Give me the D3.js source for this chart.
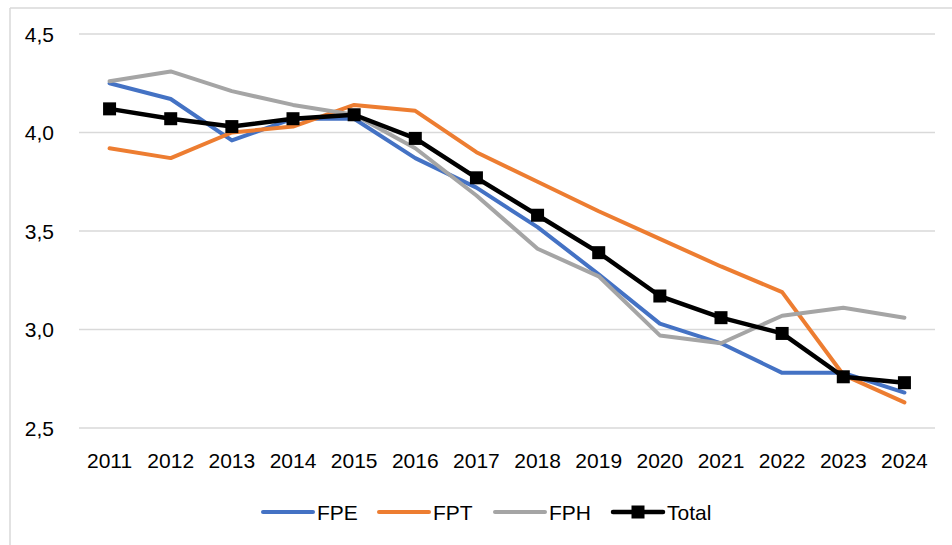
<!DOCTYPE html>
<html>
<head>
<meta charset="utf-8">
<script src="https://cdn.jsdelivr.net/npm/d3@7"></script>
<style>
  body { margin: 0; background: #fff; }
  text { font-family: "Liberation Sans", Arial, sans-serif; fill: #000; }
</style>
</head>
<body>
<svg id="chart" width="952" height="545"></svg>
<script>
  var years = ["2011", "2012", "2013", "2014", "2015", "2016", "2017", "2018", "2019", "2020", "2021", "2022", "2023", "2024"];
  var fpe   = [4.25, 4.17, 3.96, 4.07, 4.07, 3.87, 3.72, 3.52, 3.28, 3.03, 2.93, 2.78, 2.78, 2.68];
  var fpt   = [3.92, 3.87, 4.00, 4.03, 4.14, 4.11, 3.90, 3.75, 3.60, 3.46, 3.32, 3.19, 2.77, 2.63];
  var fph   = [4.26, 4.31, 4.21, 4.14, 4.09, 3.92, 3.68, 3.41, 3.27, 2.97, 2.93, 3.07, 3.11, 3.06];
  var total = [4.12, 4.07, 4.03, 4.07, 4.09, 3.97, 3.77, 3.58, 3.39, 3.17, 3.06, 2.98, 2.76, 2.73];
  var yTicks = [2.5, 3.0, 3.5, 4.0, 4.5];

  var series = [
    {name: "FPE", values: fpe, color: "#4472c4", marker: false},
    {name: "FPT", values: fpt, color: "#ed7d31", marker: false},
    {name: "FPH", values: fph, color: "#a5a5a5", marker: false},
    {name: "Total", values: total, color: "#000000", marker: true}
  ];

  var svg = d3.select("#chart");

  // chart frame (only top and left edges visible)
  svg.append("line").attr("x1", 10).attr("x2", 952).attr("y1", 8).attr("y2", 8)
    .attr("stroke", "#d9d9d9").attr("stroke-width", 1.5);
  svg.append("line").attr("x1", 10).attr("x2", 10).attr("y1", 8).attr("y2", 545)
    .attr("stroke", "#d9d9d9").attr("stroke-width", 1.5);

  var x = d3.scaleBand().domain(years).range([79, 935]);
  var y = d3.scaleLinear().domain([2.5, 4.5]).range([428, 34]);
  var cx = function(d, i) { return x(years[i]) + x.bandwidth() / 2; };

  var fmt = function(v) { return d3.format(".1f")(v).replace(".", ","); };

  // gridlines
  svg.append("g").selectAll("line").data(yTicks).enter().append("line")
    .attr("x1", 79).attr("x2", 935)
    .attr("y1", function(d) { return y(d); }).attr("y2", function(d) { return y(d); })
    .attr("stroke", "#d9d9d9").attr("stroke-width", 1.5);

  // y labels
  svg.append("g").selectAll("text").data(yTicks).enter().append("text")
    .attr("x", 54).attr("y", function(d) { return y(d); })
    .attr("dy", "0.36em").attr("text-anchor", "end")
    .style("font-size", "21px")
    .text(fmt);

  // x labels
  svg.append("g").selectAll("text").data(years).enter().append("text")
    .attr("x", function(d) { return x(d) + x.bandwidth() / 2; })
    .attr("y", 468).attr("text-anchor", "middle")
    .style("font-size", "21px")
    .text(function(d) { return d; });

  var line = d3.line().x(cx).y(function(d) { return y(d); });

  series.forEach(function(s) {
    svg.append("path").datum(s.values)
      .attr("fill", "none").attr("stroke", s.color)
      .attr("stroke-width", s.marker ? 4.5 : 4)
      .attr("stroke-linejoin", "round").attr("stroke-linecap", "round")
      .attr("d", line);
    if (s.marker) {
      svg.append("g").selectAll("rect").data(s.values).enter().append("rect")
        .attr("x", function(d, i) { return cx(d, i) - 6.5; })
        .attr("y", function(d) { return y(d) - 6.5; })
        .attr("width", 13).attr("height", 13)
        .attr("fill", s.color);
    }
  });

  // legend
  var legendX = [263, 379, 495, 613];
  var legend = svg.append("g");
  series.forEach(function(s, i) {
    var lx = legendX[i];
    legend.append("line").attr("x1", lx).attr("x2", lx + 50)
      .attr("y1", 512).attr("y2", 512)
      .attr("stroke", s.color).attr("stroke-width", s.marker ? 4.5 : 4)
      .attr("stroke-linecap", "round");
    if (s.marker) {
      legend.append("rect").attr("x", lx + 18.5).attr("y", 505.5)
        .attr("width", 13).attr("height", 13).attr("fill", s.color);
    }
    legend.append("text").attr("x", lx + 54).attr("y", 512).attr("dy", "0.36em")
      .style("font-size", "21px").text(s.name);
  });
</script>
</body>
</html>
